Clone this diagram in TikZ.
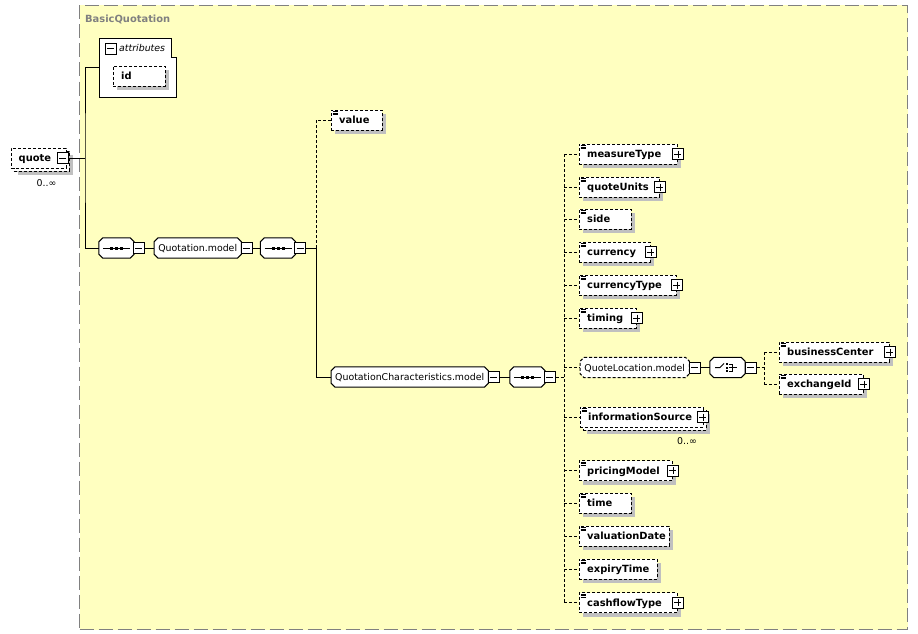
\documentclass[tikz,border=0pt]{standalone}
\usepackage{fontspec}
\setmainfont{DejaVu Sans}
\usetikzlibrary{shadows}
\definecolor{bgyel}{RGB}{255,255,192}
\definecolor{shgray}{RGB}{192,192,192}
\definecolor{frgray}{RGB}{128,128,128}
\newcommand\bfnt{\fontsize{9.9}{11}\selectfont\bfseries}
\newcommand\rfnt{\fontsize{9.4}{11}\selectfont}
\pgfdeclarelayer{back}
\pgfdeclarelayer{mid}
\pgfsetlayers{back,mid,main}
\newcommand\octpath[1]{([xshift=4pt]#1.north west) -- ([xshift=-4pt]#1.north east) -- ([yshift=-4pt]#1.north east) -- ([yshift=4pt]#1.south east) -- ([xshift=-4pt]#1.south east) -- ([xshift=4pt]#1.south west) -- ([yshift=4pt]#1.south west) -- ([yshift=-4pt]#1.north west) -- cycle}
\tikzset{
  dsh/.style={dash pattern=on 3pt off 2pt},
  shad/.style={general shadow={shadow xshift=4pt,shadow yshift=-4pt,fill=shgray}},
  elembase/.style={draw, dsh, fill=white, minimum height=20pt, inner xsep=8pt, inner ysep=0pt,
    align=left, anchor=west, font=\bfnt, text height=8pt, text depth=1pt, shad},
  elem/.style={elembase, path picture={\foreach \d in {1.5,3,4.5}{\draw[solid,line width=0.6pt]
      ([shift={(1.5,\d)}]path picture bounding box.north west) -- ++(5,0);}}},
  multi/.style={general shadow={shadow xshift=7pt,shadow yshift=-7pt,fill=shgray},
    general shadow={shadow xshift=3pt,shadow yshift=-3pt,fill=white,draw=black,dsh}},
  octo/.style={minimum height=20pt, inner sep=0pt, append after command={\pgfextra{%
      \let\octn\tikzlastnode
      \begin{pgfonlayer}{mid}
      \fill[shgray,shift={(4.5,4.5)}] \octpath{\octn};
      \draw[fill=white,draw=black,line width=1pt,#1] \octpath{\octn};
      \end{pgfonlayer}}}},
  seq/.style={octo=solid, minimum width=35pt, append after command={\pgfextra{%
      \let\octn\tikzlastnode
      \begin{pgfonlayer}{mid}
      \begin{scope}[shift={(\octn.center)}]
      \draw[black,line width=1pt] (-13.5,0) -- (13.5,0);
      \foreach \d in {-5,0,5}{\fill[black] (\d-1.5,-1.5) rectangle ++(3,3);}
      \end{scope}
      \end{pgfonlayer}}}},
  choice/.style={octo=solid, minimum width=35pt, append after command={\pgfextra{%
      \let\octn\tikzlastnode
      \begin{pgfonlayer}{mid}
      \begin{scope}[shift={(\octn.center)}]
      \draw[black,line width=1pt] (-12.5,0) -- (-7.5,0) -- (-3.5,-4);
      \foreach \d in {-3.5,0,3.5}{\fill[black] (-1.5,\d-1) rectangle ++(2,2);}
      \draw[black,line width=1pt] (1.5,-3.5) -- (5,-3.5) -- (5,3.5) -- (1.5,3.5);
      \draw[black,line width=1pt] (1.5,0) -- (9,0);
      \end{scope}
      \end{pgfonlayer}}}},
  model/.style={octo=#1, anchor=west, font=\rfnt, text height=8pt, text depth=1pt},
  model/.default=solid,
  pmbox/.style={draw, solid, fill=white, minimum size=11pt, inner sep=0pt, line width=0.8pt},
  minusb/.style={pmbox, path picture={\draw[line width=0.8pt] ([xshift=2pt]path picture bounding box.west) -- ([xshift=-2pt]path picture bounding box.east);}},
  plusb/.style={pmbox, path picture={\draw[line width=0.8pt] ([xshift=2pt]path picture bounding box.west) -- ([xshift=-2pt]path picture bounding box.east)
      ([yshift=-2pt]path picture bounding box.north) -- ([yshift=2pt]path picture bounding box.south);}},
  frame/.style={draw=frgray, line width=1pt, dash pattern=on 14pt off 5pt, fill=bgyel,
    minimum width=828pt, minimum height=624pt, anchor=north west, inner sep=0pt},
  occ/.style={font=\rfnt, anchor=base, inner sep=0pt},
}
\begin{document}
\begin{tikzpicture}[x=1pt,y=-1pt,line width=1pt]
\useasboundingbox (0,0) rectangle (918,634);
\begin{pgfonlayer}{back}
\node[frame] (frame) at (79,5) {};
\end{pgfonlayer}
\node[anchor=base west, text=frgray, font=\bfnt, inner sep=0pt] (title) at (85,23) {BasicQuotation};

% quote
\node[elembase, multi, text width=39pt] (quote) at (10.5,158) {quote};
\node[minusb] (quoteM) at ([xshift=-3pt]quote.east) {};
\node[occ] (quoteO) at (46.5,186) {0..∞};
\coordinate (j1) at (85,158);

% attributes
\node[minimum width=77pt, minimum height=59pt, anchor=north west, inner sep=0pt] (attr) at (99,38) {};
\draw[fill=white] (attr.north west) -- ([xshift=-5pt]attr.north east) |- ([yshift=-19pt]attr.north east) -- (attr.south east) -- (attr.south west) -- cycle;
\node[minusb] (attrM) at (110.5,48.5) {};
\node[font=\rfnt\itshape, anchor=base west, inner sep=0pt] (attrT) at (119,52) {attributes};
\node[elembase, text width=36pt] (id) at (113,76) {id};

% main chain
\node[seq] (seq1) at (116.5,248) {};
\node[minusb] (seq1M) at ([xshift=4.5pt]seq1.east) {};
\node[model, minimum width=87pt] (qm) at (154,248) {Quotation.model};
\node[minusb] (qmM) at ([xshift=5pt]qm.east) {};
\node[seq] (seq2) at (278,248) {};
\node[minusb] (seq2M) at ([xshift=4.5pt]seq2.east) {};
\coordinate (j2) at (316,248);
\node[elem, text width=35pt] (value) at (331,120) {value};
\node[model, minimum width=157pt] (qcm) at (331,377) {QuotationCharacteristics.model};
\node[minusb] (qcmM) at ([xshift=5pt]qcm.east) {};
\node[seq] (seq3) at (527.5,377) {};
\node[minusb] (seq3M) at ([xshift=4.5pt]seq3.east) {};
\coordinate (j3) at (564,377);

% elements
\node[elem, text width=82pt] (mT) at (579,154) {measureType};
\node[elem, text width=64pt] (qU) at (579,187) {quoteUnits};
\node[elem, text width=36pt] (side) at (579,219) {side};
\node[elem, text width=55pt] (cur) at (579,252) {currency};
\node[elem, text width=81pt] (curT) at (579,285) {currencyType};
\node[elem, text width=41pt] (tim) at (579,318) {timing};
\node[model=dsh, minimum width=109pt] (qlm) at (580,367.5) {QuoteLocation.model};
\node[minusb] (qlmM) at ([xshift=5.5pt]qlm.east) {};
\node[choice] (choice) at (727.5,367.5) {};
\node[minusb] (choiceM) at ([xshift=5.5pt]choice.east) {};
\coordinate (j4) at (764,367.5);
\node[elem, text width=94pt] (bC) at (779,352) {businessCenter};
\node[elem, text width=68pt] (eI) at (779,384) {exchangeId};
\node[elem, multi, text width=107pt] (iS) at (580,417) {informationSource};
\node[occ] (iSO) at (687,444) {0..∞};
\node[elem, text width=77pt] (pM) at (579,470.5) {pricingModel};
\node[elem, text width=36pt] (time) at (579,503) {time};
\node[elem, text width=74pt] (vD) at (579,536) {valuationDate};
\node[elem, text width=62pt] (eT) at (579,569) {expiryTime};
\node[elem, text width=82pt] (cfT) at (579,602.5) {cashflowType};

\foreach \n in {mT,qU,cur,curT,tim,pM,cfT,bC,eI}{\node[plusb] (\n P) at ([xshift=0.5pt]\n.east) {};}
\node[plusb] (iSP) at ([xshift=-0.5pt]iS.east) {};

% connectors
\draw (quoteM.east) -- (j1);
\draw (attr.west) -| (j1) |- (seq1.west);
\draw (seq1M.east) -- (qm.west);
\draw (qmM.east) -- (seq2.west);
\draw (seq2M.east) -- (j2);
\draw[dsh] (j2) |- (value.west);
\draw (j2) |- (qcm.west);
\draw (qcmM.east) -- (seq3.west);
\draw[dsh] (seq3M.east) -- (j3);
\draw[dsh] (j3 |- mT.west) -- (j3 |- cfT.west);
\foreach \n in {mT,qU,side,cur,curT,tim,qlm,iS,pM,time,vD,eT,cfT}{\draw[dsh] (j3 |- \n.west) -- (\n.west);}
\draw (qlmM.east) -- (choice.west);
\draw[dsh] (choiceM.east) -- (j4);
\draw[dsh] (j4 |- bC.west) -- (j4 |- eI.west);
\foreach \n in {bC,eI}{\draw[dsh] (j4 |- \n.west) -- (\n.west);}
\end{tikzpicture}
\end{document}
